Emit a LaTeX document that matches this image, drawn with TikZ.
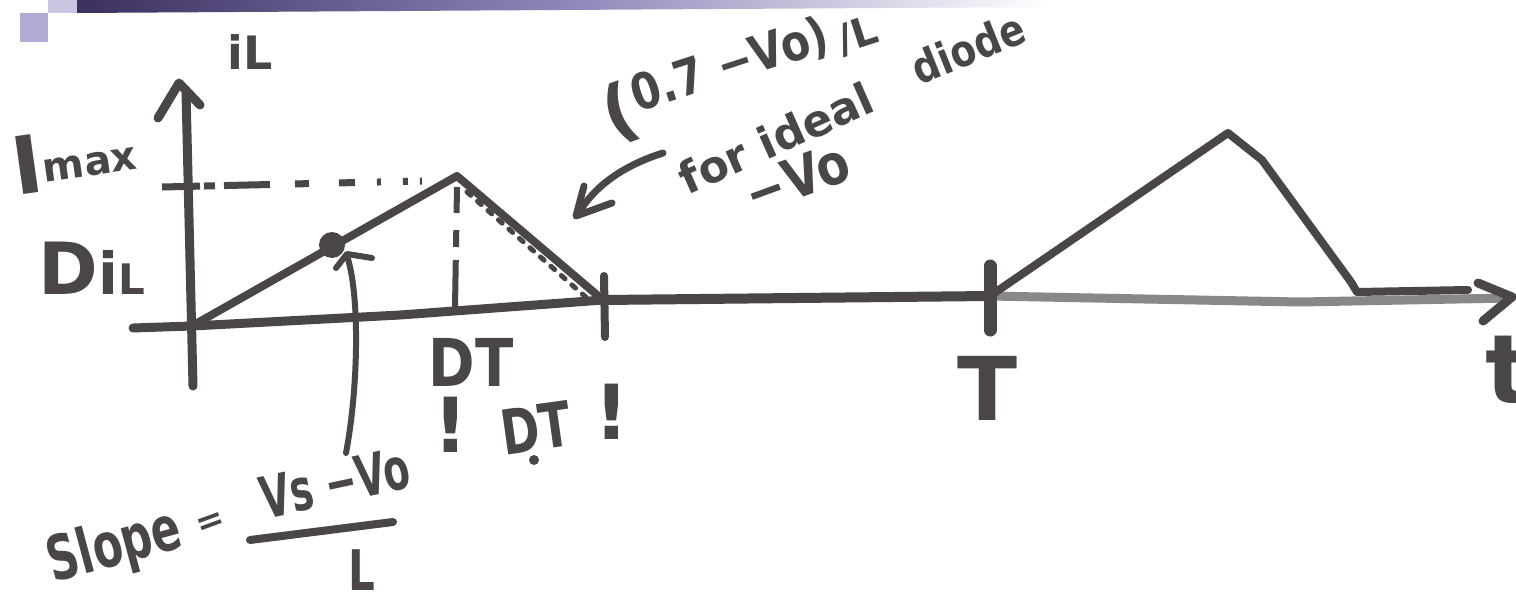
\documentclass[tikz,border=0pt]{standalone}
\usepackage{fontspec}
\setmainfont{DejaVu Sans}
\newcommand{\myfs}[1]{\fontsize{#1}{#1}\selectfont}
\definecolor{inkc}{HTML}{4A4547}
\definecolor{inkl}{HTML}{8A8789}
\definecolor{hdra}{HTML}{3B305F}
\definecolor{hdrb}{HTML}{8D84B8}
\definecolor{sqa}{HTML}{B0AAD5}
\definecolor{sqb}{HTML}{C9C5E3}
\begin{document}
\begin{tikzpicture}[x=1pt,y=-1pt,
  ink/.style={draw=inkc, line width=8pt, line cap=round, line join=round},
  lbl/.style={text=inkc, font=\bfseries, inner sep=0pt},
]
\useasboundingbox (0,0) rectangle (1516,597);
\fill[white] (0,0) rectangle (1516,597);
% slide header
\fill[sqa] (20,13) rectangle (48,42);
\fill[sqb] (48,0) rectangle (77,13);
\shade[left color=hdra, right color=hdrb] (77,0) -- (77,13) -- (560,10) -- (560,0) -- cycle;
\shade[left color=hdrb, right color=white] (560,0) -- (560,10) -- (1050,7) -- (1050,0) -- cycle;

% key points
\coordinate (O) at (192,326);
\coordinate (P1) at (457,176);
\coordinate (E1) at (603,300);
\coordinate (Tp) at (990,296);
\coordinate (P2) at (1228,133);
\coordinate (C2) at (1357,292);
\coordinate (F2) at (1468,290);
\coordinate (dotc) at (332,245);

% vertical axis
\draw[ink, line width=9pt] (193,386) -- (186,92);
\draw[ink, line width=9pt] (158,118) -- (179,83) -- (200,105);
% horizontal axis
\draw[ink, line width=9pt] (133,328) -- (O) -- (400,315) -- (E1);
\draw[ink, line width=10pt] (E1) -- (Tp);
\draw[draw=inkl, line width=9pt, line cap=round] (Tp) -- (1300,302) -- (1510,298);
\draw[ink, line width=9pt] (1478,283) -- (1512,297) -- (1483,321);
% ticks
\draw[ink, line width=8pt] (604,276) -- (605,337);
\draw[ink, line width=13pt] (990,266) -- (990,330);

% first pulse
\draw[ink] (O) -- (P1) -- (E1);
\fill[inkc] (dotc) circle (13);
% Imax dashed level
\draw[ink, line width=7pt, line cap=butt, dash pattern=on 38pt off 4pt on 11pt off 9pt on 46pt off 25pt on 14pt off 30pt on 16pt off 22pt on 4pt off 22pt on 5pt off 12pt on 5pt] (162,187) -- (422,181);
% vertical dashed drop from peak
\draw[ink, line width=6pt, line cap=butt, dash pattern=on 26pt off 17pt on 17pt off 13pt on 47pt] (457,187) -- (455,307);
% ideal diode dotted line
\draw[ink, line width=5pt, line cap=round, dash pattern=on 5pt off 9pt] (467,192) -- (589,300);

% second pulse
\draw[ink] (Tp) -- (P2) -- (1262,160) -- (1351,282) -- (C2) -- (F2);

% pointer from slope label to the dot
\coordinate (ptrA) at (346,453);
\coordinate (ptrB) at (348,259);
\draw[ink, line width=6pt] (ptrA) .. controls (358,390) and (360,300) .. (ptrB);
\draw[ink, line width=6pt] (336,268) -- (347,254) -- (372,258);

% pointer to diode slope
\coordinate (arA) at (663,153);
\coordinate (arB) at (578,214);
\draw[ink, line width=7pt] (arA) .. controls (625,165) and (595,185) .. (arB);
\draw[ink, line width=7pt] (584,186) -- (576,216) -- (612,203);

% labels
\node[lbl, font={\bfseries\myfs{46}}] (iL) at (250,52) {iL};
\node[lbl, rotate=8] (imax) at (74,158) {{\myfs{80}I}\raisebox{9pt}{\myfs{40}max}};
\node[lbl] (dil) at (92,268) {{\myfs{72}D}{\myfs{58}i}{\myfs{42}L}};
\node[lbl, font={\bfseries\myfs{66}}, xscale=.85] (dt1) at (471,362) {DT};
\node[lbl, font={\bfseries\myfs{76}}] (ex1) at (451,425) {!};
\node[lbl, font={\bfseries\myfs{76}}] (ex2) at (612,412) {!};
\node[lbl, font={\bfseries\myfs{62}}, rotate=8, xscale=.75] (dt2) at (536,428) {DT};
\fill[inkc] (534,460) circle (5);
\node[lbl, font={\bfseries\myfs{88}}] (T) at (988,388) {T};
\node[lbl, font={\bfseries\myfs{96}}] (t) at (1508,370) {t};

\node[lbl, font={\bfseries\myfs{62}}, rotate=15, xscale=.7] (slope) at (115,548) {Slope};
\node[lbl, font={\bfseries\myfs{34}}, rotate=20] (eq) at (211,524) {=};
\draw[ink] (250,540) -- (393,522);
\node[lbl, font={\bfseries\myfs{58}}, rotate=12, xscale=.66] (num) at (335,483) {Vs −Vo};
\node[lbl, font={\bfseries\myfs{56}}, xscale=.75] (den) at (362,570) {L};

\node[lbl, font={\bfseries\myfs{70}}, rotate=20] (lp) at (620,113) {(};
\node[lbl, font={\bfseries\myfs{50}}, rotate=18, xscale=.85] (expr) at (730,66) {0.7 −Vo)};
\node[lbl, font={\bfseries\myfs{40}}, rotate=18] (overL) at (858,36) {/L};
\node[lbl, font={\bfseries\myfs{44}}, rotate=22, xscale=.85] (diode) at (968,48) {diode};
\node[lbl, font={\bfseries\myfs{44}}, rotate=24] (forideal) at (776,138) {for ideal};
\node[lbl, font={\bfseries\myfs{56}}, rotate=20, xscale=.85] (mvo) at (797,178) {−Vo};
\end{tikzpicture}
\end{document}
